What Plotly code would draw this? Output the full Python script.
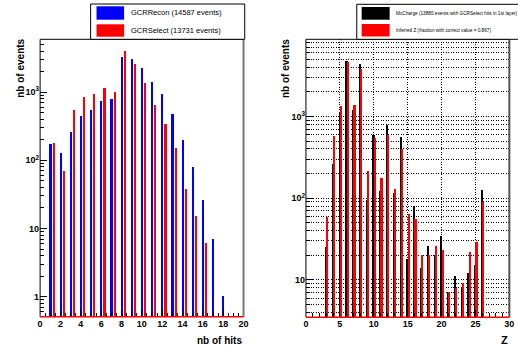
import plotly.graph_objects as go

# ---------------- data ----------------
hits_recon = list(range(1, 19))
gcr_recon = [170, 126, 259, 445, 532, 738, 789, 3185, 3012, 2224, 1402, 935, 471, 198, 80, 26, 7, 1]
hits_select = list(range(1, 17))
gcr_select = [175, 69, 545, 845, 935, 1133, 1000, 3990, 2547, 1355, 644, 340, 148, 38, 15, 6]

z_vals = list(range(3, 27))
mc_charge = [25, 256, 1120, 4700, 1184, 4375, 93, 594, 120, 769, 114, 562, 18, 80, 14, 26, 20, 34, 7, 11, 8, 12, 15, 126]
inferred_z = [58, 567, 1325, 4650, 1378, 3800, 214, 540, 176, 590, 130, 391, 63, 55, 20, 20, 26, 23, 7, 8, 9, 22, 29, 90]

left_x_ticks = list(range(0, 21, 2))
right_x_ticks = list(range(0, 31, 5))
left_y_ticks = [1, 10, 100, 1000]
left_y_text = ["1", "10", "10<sup>2</sup>", "10<sup>3</sup>"]
right_y_ticks = [10, 100, 1000]
right_y_text = ["10", "10<sup>2</sup>", "10<sup>3</sup>"]

legend_left = ["GCRRecon (14587 events)", "GCRSelect (13731 events)"]
legend_right = ["McCharge (13880 events with GCRSelect hits in 1st layer)",
                "Inferred Z (fraction with correct value = 0.867)"]

W, H = 518, 347
FONT = "Liberation Sans"

def px(x):
    return x / W

def py(y):
    return 1 - y / H

fig = go.Figure()
fig.add_trace(go.Bar(x=hits_recon, y=gcr_recon, width=0.17, offset=-0.03,
                     marker=dict(color="#0000ff", line=dict(width=0)), xaxis="x", yaxis="y"))
fig.add_trace(go.Bar(x=hits_select, y=gcr_select, width=0.17, offset=0.28,
                     marker=dict(color="#ff0000", line=dict(width=0)), xaxis="x", yaxis="y"))
fig.add_trace(go.Bar(x=z_vals, y=mc_charge, width=0.25, offset=-0.12,
                     marker=dict(color="#000000", line=dict(width=0)), xaxis="x2", yaxis="y2"))
fig.add_trace(go.Bar(x=z_vals, y=inferred_z, width=0.25, offset=0.06,
                     marker=dict(color="#ff0000", line=dict(width=0)), xaxis="x2", yaxis="y2"))

def minor_log(lo, hi):
    vals = []
    for d in range(lo, hi + 1):
        for m in range(2, 10):
            vals.append(m * 10 ** d)
    return vals

tickfont = dict(family=FONT, size=9, color="black", weight="bold")
GRID = dict(gridcolor="#000000", griddash="1px,1.5px", gridwidth=1)

fig.update_layout(
    width=W, height=H, margin=dict(l=0, r=0, t=0, b=0),
    paper_bgcolor="white", plot_bgcolor="white",
    showlegend=False, barmode="overlay", bargap=0,
    xaxis=dict(domain=[px(37.7), px(244.3)], range=[0, 20.0001], anchor="y",
               tickmode="array", tickvals=left_x_ticks, ticks="inside", ticklen=7,
               tickcolor="black", tickfont=tickfont, showgrid=False, zeroline=False,
               showline=False,
               minor=dict(ticks="inside", dtick=0.5, tick0=0, ticklen=4, tickcolor="black")),
    yaxis=dict(domain=[py(316.7), py(39.3)], type="log", range=[-0.293, 3.774], anchor="x",
               tickmode="array", tickvals=left_y_ticks, ticktext=left_y_text,
               ticks="inside", ticklen=7, tickcolor="black", tickfont=tickfont,
               showgrid=False, zeroline=False, showline=False,
               minor=dict(ticks="inside", tickmode="array", tickvals=minor_log(-1, 3),
                          ticklen=4, tickcolor="black")),
    xaxis2=dict(domain=[px(307.7), px(514.3)], range=[0, 30.0001], anchor="y2",
                tickmode="array", tickvals=right_x_ticks, ticks="inside", ticklen=7,
                tickcolor="black", tickfont=tickfont, showgrid=True, **GRID,
                zeroline=False, showline=False,
                minor=dict(ticks="inside", dtick=1, tick0=0, ticklen=4, tickcolor="black")),
    yaxis2=dict(domain=[py(317.3), py(39.3)], type="log", range=[0.543, 3.943], anchor="x2",
                tickmode="array", tickvals=right_y_ticks, ticktext=right_y_text,
                ticks="inside", ticklen=7, tickcolor="black", tickfont=tickfont,
                showgrid=True, **GRID, zeroline=False, showline=False,
                minor=dict(ticks="inside", tickmode="array", tickvals=minor_log(0, 3),
                           ticklen=4, tickcolor="black", showgrid=True, **GRID)),
)

shapes = []
for xa, ya, redge in (("x", "y", "#777"), ("x2", "y2", "#555")):
    shapes.append(dict(type="line", xref=f"{xa} domain", yref=f"{ya} domain",
                       x0=0, x1=1, y0=1, y1=1, line=dict(color="black", width=1), layer="above"))
    shapes.append(dict(type="line", xref=f"{xa} domain", yref=f"{ya} domain",
                       x0=0, x1=0, y0=0, y1=1, line=dict(color="black", width=1), layer="above"))
    shapes.append(dict(type="line", xref=f"{xa} domain", yref=f"{ya} domain",
                       x0=1, x1=1, y0=0, y1=1, line=dict(color=redge, width=2), layer="above"))
    shapes.append(dict(type="line", xref=f"{xa} domain", yref=f"{ya} domain",
                       x0=0, x1=1, y0=0, y1=0, line=dict(color="#ff0000", width=1.5), layer="above"))

# legend boxes
shapes.append(dict(type="rect", xref="paper", yref="paper", x0=px(89), x1=px(245.5),
                   y0=py(39.3), y1=py(4), line=dict(color="black", width=1), fillcolor="white"))
shapes.append(dict(type="rect", xref="paper", yref="paper", x0=px(95), x1=px(123),
                   y0=py(19.7), y1=py(6.3), line=dict(width=0), fillcolor="#0000ff"))
shapes.append(dict(type="rect", xref="paper", yref="paper", x0=px(95), x1=px(123),
                   y0=py(36.7), y1=py(24.3), line=dict(width=0), fillcolor="#ff0000"))
shapes.append(dict(type="rect", xref="paper", yref="paper", x0=px(359.3), x1=px(530),
                   y0=py(39.3), y1=py(4.3), line=dict(color="black", width=1), fillcolor="white"))
shapes.append(dict(type="rect", xref="paper", yref="paper", x0=px(364.3), x1=px(392.7),
                   y0=py(19.7), y1=py(7), line=dict(width=0), fillcolor="#000000"))
shapes.append(dict(type="rect", xref="paper", yref="paper", x0=px(364.3), x1=px(392.7),
                   y0=py(36.5), y1=py(24), line=dict(width=0), fillcolor="#ff0000"))
fig.update_layout(shapes=shapes)

ann = []
ann.append(dict(text=legend_left[0], x=px(128), y=py(13), xref="paper", yref="paper",
                xanchor="left", yanchor="middle", showarrow=False,
                font=dict(family=FONT, size=7.5, color="black")))
ann.append(dict(text=legend_left[1], x=px(128), y=py(30.5), xref="paper", yref="paper",
                xanchor="left", yanchor="middle", showarrow=False,
                font=dict(family=FONT, size=7.5, color="black")))
ann.append(dict(text=legend_right[0], x=px(397), y=py(13.3), xref="paper", yref="paper",
                xanchor="left", yanchor="middle", showarrow=False,
                font=dict(family=FONT, size=4.7, color="black")))
ann.append(dict(text=legend_right[1], x=px(397), y=py(30.3), xref="paper", yref="paper",
                xanchor="left", yanchor="middle", showarrow=False,
                font=dict(family=FONT, size=4.7, color="black")))
ann.append(dict(text="nb of events", x=px(17), y=py(68), xref="paper", yref="paper",
                textangle=-90, xanchor="center", yanchor="middle", showarrow=False,
                font=dict(family=FONT, size=10, color="black", weight="bold")))
ann.append(dict(text="nb of events", x=px(287.5), y=py(69), xref="paper", yref="paper",
                textangle=-90, xanchor="center", yanchor="middle", showarrow=False,
                font=dict(family=FONT, size=10, color="black", weight="bold")))
ann.append(dict(text="nb of hits", x=px(245), y=py(340), xref="paper", yref="paper",
                xanchor="right", yanchor="middle", showarrow=False,
                font=dict(family=FONT, size=10, color="black", weight="bold")))
ann.append(dict(text="Z", x=px(515), y=py(340), xref="paper", yref="paper",
                xanchor="right", yanchor="middle", showarrow=False,
                font=dict(family=FONT, size=11, color="black", weight="bold")))
fig.update_layout(annotations=ann)

fig.write_html("out.html")
